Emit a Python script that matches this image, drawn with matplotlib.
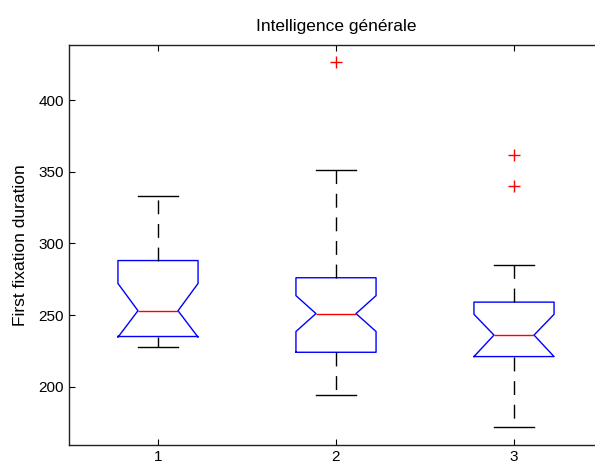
import matplotlib
matplotlib.use("Agg")
from matplotlib import pyplot as plt

plt.rcParams['font.family'] = ['Liberation Sans', 'DejaVu Sans']

# values
labels = ['1', '2', '3']
med = [253, 251, 236]
q1 = [235, 224, 221]
q3 = [288, 276, 259]
whislo = [228, 194, 172]
whishi = [333, 351, 285]
cilo = [234.5, 238.5, 221]
cihi = [272, 263.5, 250.5]
fliers = [[], [426.5], [361.5, 340]]

stats = []
for i in range(len(labels)):
    stats.append(dict(med=med[i], q1=q1[i], q3=q3[i], whislo=whislo[i],
                      whishi=whishi[i], cilo=cilo[i], cihi=cihi[i],
                      fliers=fliers[i], label=labels[i]))

fig = plt.figure(figsize=(5.95, 4.65), dpi=100)
ax = fig.add_axes([69 / 595, 1 - 445 / 465, (603 - 69) / 595, 400 / 465])

ax.bxp(stats, positions=[1, 2, 3], widths=0.45, shownotches=True,
       boxprops=dict(color='blue', linewidth=1.0),
       medianprops=dict(color='red', linewidth=1.0),
       whiskerprops=dict(color='black', linewidth=1.0, linestyle=(0, (10, 7))),
       capprops=dict(color='black', linewidth=1.0),
       flierprops=dict(marker='+', markeredgecolor='red', markersize=8,
                       markeredgewidth=1.0, linestyle='none'))

ax.set_xlim(0.5, 3.5)
ax.set_ylim(159.3, 438.4)
ax.set_yticks([200, 250, 300, 350, 400])
ax.set_xticks([1, 2, 3])
ax.set_xticklabels(labels)
ax.tick_params(direction='in', top=True, right=True, labelsize=11, length=4)
for s in ax.spines.values():
    s.set_linewidth(1.0)
    s.set_color('#222222')

ax.set_title('Intelligence générale', fontsize=12.5, pad=10)
ax.set_ylabel('First fixation duration', fontsize=12.5, labelpad=8)

fig.savefig('out.png', dpi=100)
